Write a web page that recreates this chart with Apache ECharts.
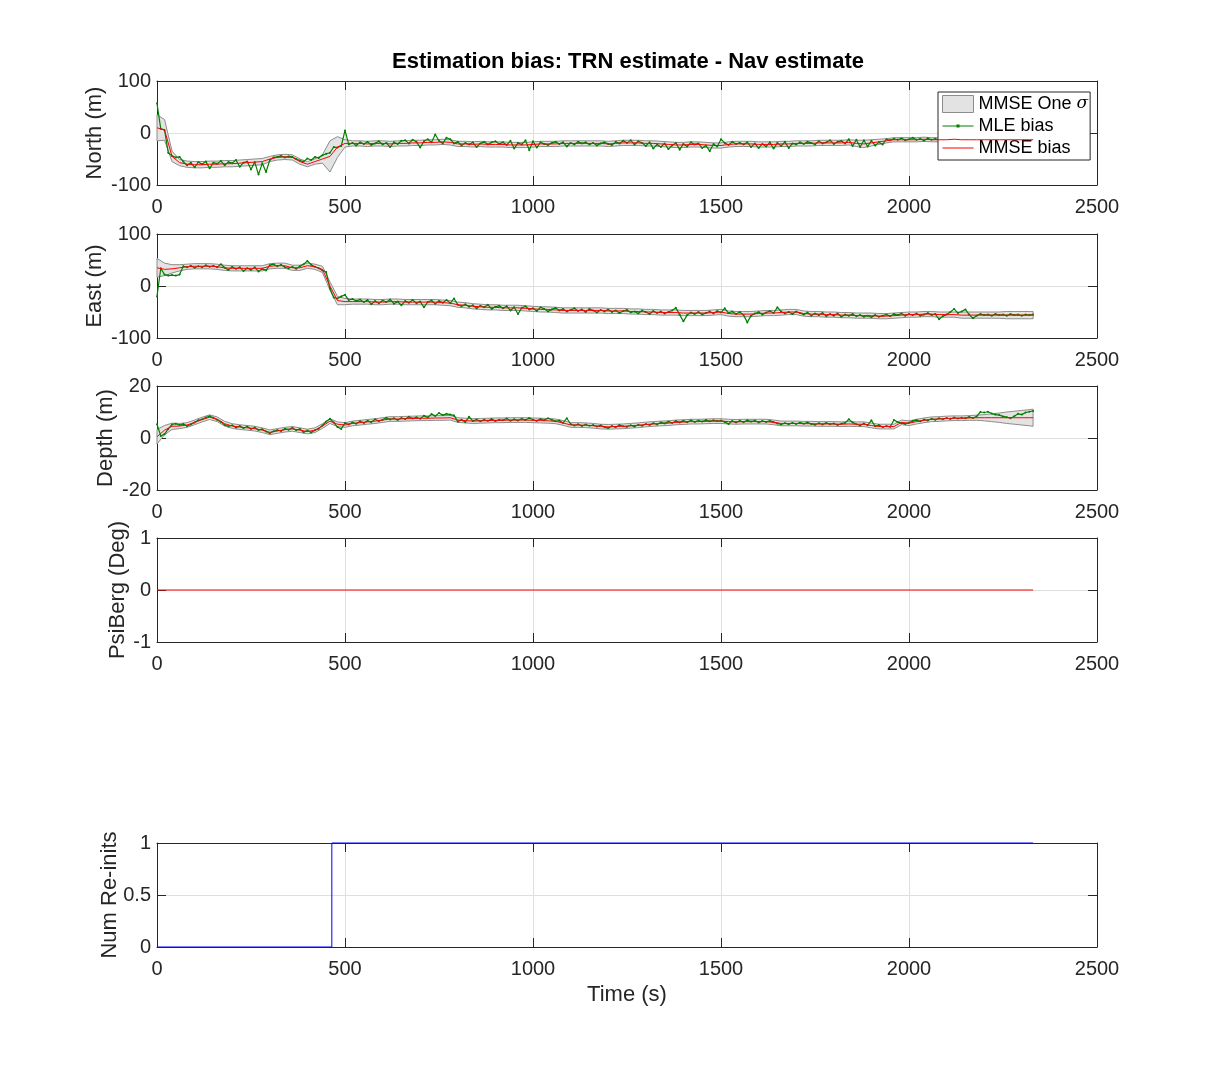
<!DOCTYPE html>
<html>
<head>
<meta charset="utf-8">
<script src="https://cdn.jsdelivr.net/npm/echarts@6/dist/echarts.min.js"></script>
<style>html,body{margin:0;padding:0;background:#fff}#c{width:1213px;height:1070px}</style>
</head>
<body>
<div id="c"></div>
<script>
// ---------------- data ----------------
const titleText = 'Estimation bias: TRN estimate - Nav estimate';
const xTicks = [0, 500, 1000, 1500, 2000, 2500];
const northTicks = [-100, 0, 100];
const eastTicks = [-100, 0, 100];
const depthTicks = [-20, 0, 20];
const psiTicks = [-1, 0, 1];
const reinitTicks = [0, 0.5, 1];

// MLE sample times (s)
const tMle = [
0,10,20,30,40,50,60,70,80,90,
100,110,120,130,140,150,160,170,180,190,
200,210,220,230,240,250,260,270,280,290,
300,310,320,330,340,350,360,370,380,390,
400,410,420,430,440,450,460,470,480,490,
500,510,520,530,540,550,560,570,580,590,
600,610,620,630,640,650,660,670,680,690,
700,710,720,730,740,750,760,770,780,790,
800,810,820,830,840,850,860,870,880,890,
900,910,920,930,940,950,960,970,980,990,
1000,1010,1020,1030,1040,1050,1060,1070,1080,1090,
1100,1110,1120,1130,1140,1150,1160,1170,1180,1190,
1200,1210,1220,1230,1240,1250,1260,1270,1280,1290,
1300,1310,1320,1330,1340,1350,1360,1370,1380,1390,
1400,1410,1420,1430,1440,1450,1460,1470,1480,1490,
1500,1510,1520,1530,1540,1550,1560,1570,1580,1590,
1600,1610,1620,1630,1640,1650,1660,1670,1680,1690,
1700,1710,1720,1730,1740,1750,1760,1770,1780,1790,
1800,1810,1820,1830,1840,1850,1860,1870,1880,1890,
1900,1910,1920,1930,1940,1950,1960,1970,1980,1990,
2000,2010,2020,2030,2040,2050,2060,2070,2080,2090,
2100,2110,2120,2130,2140,2150,2160,2170,2180,2190,
2200,2210,2220,2230,2240,2250,2260,2270,2280,2290,
2300,2310,2320,2330];

// MMSE sample times (s)
const tMmse = [
0,20,40,60,80,100,120,140,160,180,
200,220,240,260,280,300,320,340,360,380,
400,420,440,460,480,500,520,540,560,580,
600,620,640,660,680,700,720,740,760,780,
800,820,840,860,880,900,920,940,960,980,
1000,1020,1040,1060,1080,1100,1120,1140,1160,1180,
1200,1220,1240,1260,1280,1300,1320,1340,1360,1380,
1400,1420,1440,1460,1480,1500,1520,1540,1560,1580,
1600,1620,1640,1660,1680,1700,1720,1740,1760,1780,
1800,1820,1840,1860,1880,1900,1920,1940,1960,1980,
2000,2020,2040,2060,2080,2100,2120,2140,2160,2180,
2200,2220,2240,2260,2280,2300,2320,2330];

// North (m)
const northMle = [
57,8,6,-38,-44,-47,-46,-55,-62,-57,
-66,-56,-60,-55,-68,-57,-59,-54,-62,-56,
-58,-52,-65,-57,-55,-70,-56,-80,-58,-75,
-52,-47,-46,-44,-47,-45,-46,-50,-53,-55,
-49,-52,-46,-48,-43,-40,-38,-27,-28,-25,
5,-22,-19,-24,-18,-21,-17,-23,-20,-16,
-22,-19,-27,-18,-21,-15,-14,-20,-13,-17,
-28,-16,-12,-18,-3,-15,-20,-9,-12,-20,
-17,-24,-19,-22,-18,-27,-20,-17,-22,-18,
-16,-21,-18,-23,-15,-30,-19,-22,-14,-33,
-16,-28,-18,-21,-23,-19,-17,-21,-18,-26,
-19,-22,-17,-20,-18,-22,-19,-24,-20,-18,
-21,-23,-17,-20,-15,-19,-14,-22,-16,-19,
-25,-18,-30,-22,-27,-20,-31,-24,-19,-32,
-21,-26,-18,-22,-20,-29,-24,-35,-21,-26,
-12,-19,-23,-17,-21,-19,-22,-18,-27,-20,
-29,-21,-26,-18,-30,-19,-25,-17,-29,-20,
-22,-18,-21,-17,-19,-22,-16,-20,-18,-14,
-21,-17,-15,-20,-12,-25,-13,-27,-14,-26,
-15,-24,-18,-22,-12,-14,-11,-13,-10,-14,
-12,-9,-13,-11,-15,-10,-13,-11,-14,-12,
-15,-11,-13,-10,-14,-12,-16,-11,-13,-10,
-14,-12,-15,-11,-13,-10,-14,-12,-15,-11,
-13,-12,-14,-12];
const northMmse = [
10,6,-45,-57,-60,-61,-61,-60,-60,-59,
-59,-58,-57,-56,-55,-50,-47,-46,-47,-55,
-60,-55,-50,-45,-27,-20,-20,-20,-21,-20,
-20,-21,-20,-20,-19,-19,-18,-18,-17,-18,
-21,-21,-22,-21,-22,-22,-22,-23,-23,-23,
-22,-21,-21,-21,-20,-20,-20,-20,-20,-20,
-21,-20,-19,-19,-19,-20,-20,-21,-22,-23,
-23,-22,-22,-23,-24,-24,-22,-21,-21,-21,
-22,-22,-22,-21,-21,-20,-20,-20,-19,-19,
-19,-19,-18,-20,-21,-19,-17,-15,-13,-13,
-13,-13,-12,-13,-13,-13,-12,-13,-13,-13,
-13,-13,-13,-13,-13,-13,-13,-13];
const northSigma = [
25,20,10,6,6,6,6,6,6,6,
6,6,6,6,6,5,5,5,5,5,
5,5,8,30,20,7,5,5,5,5,
5,5,5,5,5,5,5,5,5,5,
5,5,5,5,5,5,5,5,5,5,
5,5,5,5,5,5,5,5,5,5,
5,5,5,5,5,5,5,5,5,5,
5,5,5,5,5,5,5,5,5,5,
5,5,5,5,5,5,5,5,5,5,
5,5,5,6,7,6,5,4,4,4,
4,4,4,4,4,4,4,4,4,4,
4,4,4,4,4,4,4,4];

// East (m)
const eastMle = [
-20,34,22,20,21,20,22,38,36,39,
35,38,36,40,37,39,36,42,35,31,
37,33,36,29,34,31,36,28,33,30,
40,42,38,41,36,34,37,33,38,42,
48,41,37,34,30,27,-5,-22,-24,-20,
-17,-27,-25,-29,-26,-31,-27,-35,-29,-33,
-28,-31,-26,-34,-30,-37,-29,-32,-27,-33,
-30,-41,-31,-28,-34,-29,-32,-27,-33,-24,
-36,-39,-35,-40,-37,-43,-38,-41,-36,-44,
-40,-38,-43,-39,-47,-41,-54,-42,-39,-45,
-43,-48,-41,-44,-49,-45,-42,-47,-44,-49,
-46,-43,-48,-45,-50,-44,-47,-51,-46,-49,
-45,-50,-47,-52,-48,-46,-51,-49,-53,-47,
-50,-54,-48,-52,-49,-53,-50,-47,-42,-55,
-68,-56,-51,-54,-50,-55,-52,-49,-53,-48,
-51,-43,-52,-49,-54,-50,-56,-70,-57,-53,
-50,-55,-51,-48,-52,-41,-49,-53,-50,-54,
-49,-52,-55,-51,-57,-53,-56,-52,-58,-54,
-57,-53,-59,-55,-57,-54,-58,-56,-59,-57,
-60,-56,-59,-57,-55,-58,-54,-56,-53,-57,
-54,-56,-53,-57,-55,-52,-56,-54,-64,-58,
-55,-50,-44,-52,-49,-45,-55,-62,-57,-54,
-56,-55,-57,-54,-56,-55,-57,-54,-56,-55,
-57,-55,-56,-55];
const eastMmse = [
35,32,33,35,37,38,38,38,37,35,
34,34,34,34,34,38,39,39,35,35,
39,37,32,0,-28,-30,-30,-30,-30,-31,
-31,-30,-30,-31,-31,-31,-31,-31,-32,-33,
-36,-37,-39,-40,-41,-41,-42,-42,-42,-43,
-44,-45,-45,-46,-47,-47,-47,-47,-47,-47,
-48,-48,-48,-49,-49,-50,-50,-51,-51,-51,
-52,-52,-52,-52,-51,-50,-53,-54,-54,-54,
-53,-52,-52,-51,-50,-50,-53,-54,-54,-55,
-55,-56,-56,-57,-57,-57,-58,-58,-57,-56,
-55,-55,-54,-54,-55,-55,-55,-56,-56,-56,
-56,-56,-56,-56,-56,-56,-56,-56];
const eastSigma = [
18,12,8,6,5,5,5,5,5,5,
5,5,5,5,5,5,5,5,5,5,
5,5,6,8,8,6,5,5,5,5,
5,5,5,5,5,5,5,5,5,5,
5,5,5,5,5,5,5,5,5,5,
5,5,5,5,5,5,5,5,5,5,
5,5,5,5,5,5,5,5,5,5,
5,5,5,5,5,5,5,5,5,5,
5,5,5,5,5,5,5,5,5,5,
5,5,5,5,5,5,5,5,5,5,
5,5,5,5,5,5,5,6,6,6,
6,6,6,7,7,7,7,7];

// Depth (m)
const depthMle = [
5.3,0.8,1.5,3.5,5.2,5.5,5.0,5.4,4.6,5.2,
6.0,6.8,7.2,7.9,8.4,7.8,7.0,6.2,5.0,4.5,
4.9,4.0,4.6,3.8,4.4,3.5,4.0,3.1,3.4,2.5,
1.8,2.6,3.0,2.7,3.6,3.2,3.9,3.0,3.5,2.2,
2.9,2.1,3.0,3.6,4.8,6.3,7.4,6.0,4.2,3.5,
5.8,5.2,6.0,5.5,6.4,5.8,6.6,6.1,7.2,6.5,
7.0,7.8,7.1,7.6,6.9,7.7,7.3,8.2,7.5,8.0,
7.4,8.6,7.9,9.2,8.5,9.6,8.8,9.3,9.0,8.7,
6.3,7.0,6.1,8.2,6.5,7.1,6.4,7.0,6.6,7.3,
6.5,7.0,6.8,7.5,6.6,7.2,6.7,7.4,6.9,7.7,
7.0,6.6,7.3,6.8,7.6,7.0,6.4,6.7,5.8,7.6,
5.4,4.8,5.3,4.6,5.2,4.7,5.0,4.4,4.9,4.2,
3.8,4.6,4.1,5.0,4.5,4.3,4.9,4.4,5.1,4.7,
5.4,5.0,5.7,5.2,6.0,5.6,6.3,5.8,6.5,6.0,
6.6,6.1,6.8,6.2,6.7,6.3,6.9,6.4,6.8,6.5,
6.7,6.2,5.4,6.5,6.0,6.6,6.1,6.8,6.3,6.7,
6.0,6.5,6.2,6.6,6.1,5.6,5.2,5.7,5.3,5.8,
5.4,5.9,5.5,6.0,5.4,5.1,5.7,5.2,5.8,5.3,
5.6,5.0,5.5,5.8,7.2,6.0,5.3,4.8,5.6,4.9,
6.8,4.5,5.0,4.2,4.6,4.3,6.9,6.1,5.7,5.4,
5.9,6.5,6.9,6.4,7.1,6.7,7.4,7.0,7.6,7.2,
7.7,7.3,7.9,7.5,7.8,7.6,8.1,7.7,8.3,10.0,
9.8,10.1,9.4,9.0,8.8,8.3,8.0,7.6,8.4,9.3,
9.0,9.8,10.1,10.4];
const depthMmse = [
0.5,3.0,4.5,4.6,5.0,6.0,7.1,8.0,7.2,5.5,
4.6,4.2,3.9,3.6,3.0,2.2,2.7,3.2,3.5,3.0,
2.5,3.0,4.6,6.5,5.3,5.0,5.6,5.9,6.2,6.5,
6.9,7.3,7.3,7.4,7.5,7.6,7.6,7.7,7.7,7.8,
6.9,6.7,6.5,6.6,6.7,6.8,6.8,6.9,6.9,6.9,
6.8,6.7,6.6,6.4,5.8,5.0,5.0,4.9,4.7,4.4,
4.3,4.4,4.5,4.7,4.9,5.2,5.4,5.6,5.7,6.0,
6.1,6.3,6.3,6.4,6.5,6.5,6.3,6.2,6.3,6.3,
6.3,6.3,6.0,5.6,5.6,5.6,5.5,5.5,5.4,5.4,
5.4,5.3,5.4,5.3,5.3,4.8,4.4,4.4,4.4,6.0,
5.7,6.3,6.8,7.2,7.3,7.5,7.6,7.6,7.7,7.8,
7.8,7.8,7.8,7.8,7.8,7.8,7.8,7.8];
const depthSigma = [
2.8,1.8,1.2,1.0,0.9,0.9,0.9,0.9,0.9,0.9,
0.9,0.9,0.9,0.9,0.9,0.9,0.9,0.9,0.9,0.9,
0.9,0.9,0.9,0.9,0.9,0.9,0.9,0.9,0.9,0.9,
0.9,0.9,0.9,0.9,0.9,0.9,0.9,0.9,0.9,0.9,
0.9,0.9,0.9,0.9,0.9,0.9,0.9,0.9,0.9,0.9,
0.9,0.9,0.9,0.9,0.9,0.9,0.9,0.9,0.9,0.9,
0.9,0.9,0.9,0.9,0.9,0.9,0.9,0.9,0.9,0.9,
0.9,0.9,0.9,0.9,0.9,0.9,0.9,0.9,0.9,0.9,
0.9,0.9,0.9,0.9,0.9,0.9,0.9,0.9,0.9,0.9,
0.9,0.9,0.9,0.9,0.9,0.9,0.9,0.9,0.9,0.9,
0.9,0.9,0.9,0.9,0.9,0.9,0.9,0.9,0.9,1.0,
1.2,1.5,1.8,2.2,2.5,2.8,3.1,3.3];

// PsiBerg (Deg)
const psiTime = [0, 2330];
const psiMmse = [0, 0];

// Num Re-inits
const reinitTime = [0, 465, 465, 2330];
const reinitCount = [0, 0, 1, 1];

// ---------------- chart ----------------
const FONT = "'Liberation Sans', Arial, Helvetica, sans-serif";
const AX = '#262626';
const GRIDC = '#dfdfdf';
const BAND = 'MMSE One σ';
const GREEN = '#008000', RED = '#ff0000', BLUE = '#0000ff';

const panels = [
  {label: 'North (m)', ticks: northTicks, gap: 51},
  {label: 'East (m)', ticks: eastTicks, gap: 51},
  {label: 'Depth (m)', ticks: depthTicks, gap: 40},
  {label: 'PsiBerg (Deg)', ticks: psiTicks, gap: 28},
  {label: 'Num Re-inits', ticks: reinitTicks, gap: 36}
];
const tops = [81, 234, 386, 538, 843];
const H = 104;
const plainNum = v => String(v);

const grid = tops.map(t => ({left: 157, width: 940, top: t, height: H}));
const xAxis = [], yAxis = [];
panels.forEach((p, i) => {
  const xb = {
    type: 'value', gridIndex: i,
    min: xTicks[0], max: xTicks[xTicks.length - 1], interval: xTicks[1] - xTicks[0],
    axisLine: {show: true, onZero: false, lineStyle: {color: AX, width: 1}},
    axisTick: {show: true, inside: true, length: 9, lineStyle: {color: AX, width: 1}}
  };
  xAxis.push(Object.assign({}, xb, {
    position: 'bottom',
    axisLabel: {show: true, color: AX, fontSize: 20, fontFamily: FONT, margin: 12, formatter: plainNum},
    splitLine: {show: true, lineStyle: {color: GRIDC, width: 1}},
    name: i === 4 ? 'Time (s)' : '', nameLocation: 'middle', nameGap: 37, nameMoveOverlap: false,
    nameTextStyle: {color: AX, fontSize: 22, fontFamily: FONT}
  }));
  xAxis.push(Object.assign({}, xb, {
    position: 'top', axisLabel: {show: false}, splitLine: {show: false}
  }));
  const yb = {
    type: 'value', gridIndex: i,
    min: p.ticks[0], max: p.ticks[p.ticks.length - 1], interval: p.ticks[1] - p.ticks[0],
    axisLine: {show: true, onZero: false, lineStyle: {color: AX, width: 1}},
    axisTick: {show: true, inside: true, length: 9, lineStyle: {color: AX, width: 1}}
  };
  yAxis.push(Object.assign({}, yb, {
    position: 'left',
    axisLabel: {show: true, color: AX, fontSize: 20, fontFamily: FONT, margin: 6, formatter: plainNum},
    splitLine: {show: true, lineStyle: {color: GRIDC, width: 1}},
    name: p.label, nameLocation: 'middle', nameGap: p.gap, nameMoveOverlap: false,
    nameTextStyle: {color: AX, fontSize: 22, fontFamily: FONT}
  }));
  yAxis.push(Object.assign({}, yb, {
    position: 'right', axisLabel: {show: false}, splitLine: {show: false}
  }));
});

function pairs(ts, vs) { return ts.map((t, k) => [t, vs[k]]); }

function bandSeries(i, mmse, sigma) {
  return {
    type: 'custom', name: BAND, xAxisIndex: 2 * i, yAxisIndex: 2 * i,
    data: [[tMmse[0], mmse[0]]], silent: true, z: 2,
    itemStyle: {color: '#e3e3e3', borderColor: '#8c8c8c'},
    renderItem: function (params, api) {
      const pts = [];
      for (let k = 0; k < tMmse.length; k++) pts.push(api.coord([tMmse[k], mmse[k] + sigma[k]]));
      for (let k = tMmse.length - 1; k >= 0; k--) pts.push(api.coord([tMmse[k], mmse[k] - sigma[k]]));
      return {type: 'polygon', shape: {points: pts},
        style: {fill: '#e3e3e3', stroke: '#8c8c8c', lineWidth: 1}};
    }
  };
}
function mleSeries(i, vals) {
  return {
    type: 'line', name: 'MLE bias', xAxisIndex: 2 * i, yAxisIndex: 2 * i,
    data: pairs(tMle, vals), symbol: 'circle', symbolSize: 2, showAllSymbol: true,
    lineStyle: {color: GREEN, width: 1.2}, itemStyle: {color: GREEN, borderWidth: 0},
    silent: true, z: 3
  };
}
function mmseSeries(i, vals, ts, name) {
  return {
    type: 'line', name: name || 'MMSE bias', xAxisIndex: 2 * i, yAxisIndex: 2 * i,
    data: pairs(ts || tMmse, vals), symbol: 'none',
    lineStyle: {color: RED, width: 1}, itemStyle: {color: RED},
    silent: true, z: 4
  };
}

const series = [
  bandSeries(0, northMmse, northSigma), mleSeries(0, northMle), mmseSeries(0, northMmse),
  bandSeries(1, eastMmse, eastSigma), mleSeries(1, eastMle), mmseSeries(1, eastMmse),
  bandSeries(2, depthMmse, depthSigma), mleSeries(2, depthMle), mmseSeries(2, depthMmse),
  mmseSeries(3, psiMmse, psiTime, 'PsiBerg'),
  {
    type: 'line', name: 'Num Re-inits', xAxisIndex: 8, yAxisIndex: 8,
    data: pairs(reinitTime, reinitCount), symbol: 'none', clip: false,
    lineStyle: {color: BLUE, width: 1}, itemStyle: {color: BLUE}, silent: true, z: 5
  }
];

const MLE_ICON = 'path://M0,0 L0.01,0 L0,0.01 Z M31,17 L30.99,17 L31,16.99 Z M0,8 L31,8 L31,9 L0,9 Z M14,7 L17,7 L17,10 L14,10 Z';
const LINE_ICON = 'path://M0,0 L0.01,0 L0,0.01 Z M31,17 L30.99,17 L31,16.99 Z M0,8 L31,8 L31,9 L0,9 Z';

const option = {
  animation: false,
  backgroundColor: '#ffffff',
  graphic: [{
    type: 'text', x: 628, y: 62, silent: true,
    style: {text: titleText, fill: '#000', font: 'bold 22px ' + FONT, align: 'center', verticalAlign: 'middle'}
  }],
  legend: {
    orient: 'vertical', left: 938, top: 92,
    itemWidth: 31, itemHeight: 17, itemGap: 4, padding: [3, 2, 3, 4],
    backgroundColor: '#fff', borderColor: AX, borderWidth: 1, borderRadius: 0,
    selectedMode: false,
    textStyle: {color: '#000', fontSize: 18, fontFamily: FONT,
      rich: {s: {fontStyle: 'italic', fontFamily: "'DejaVu Serif', serif", fontSize: 17, color: '#000'}}},
    formatter: function (name) { return name === BAND ? 'MMSE One {s|σ}' : name; },
    data: [
      {name: BAND, icon: 'rect', itemStyle: {color: '#e3e3e3', borderColor: '#8c8c8c', borderWidth: 1}},
      {name: 'MLE bias', icon: MLE_ICON, itemStyle: {color: GREEN, borderWidth: 0}},
      {name: 'MMSE bias', icon: LINE_ICON, itemStyle: {color: RED, borderWidth: 0}}
    ]
  },
  grid: grid,
  xAxis: xAxis,
  yAxis: yAxis,
  series: series
};

const chart = echarts.init(document.getElementById('c'), null, {renderer: 'canvas'});
chart.setOption(option);
</script>
</body>
</html>
